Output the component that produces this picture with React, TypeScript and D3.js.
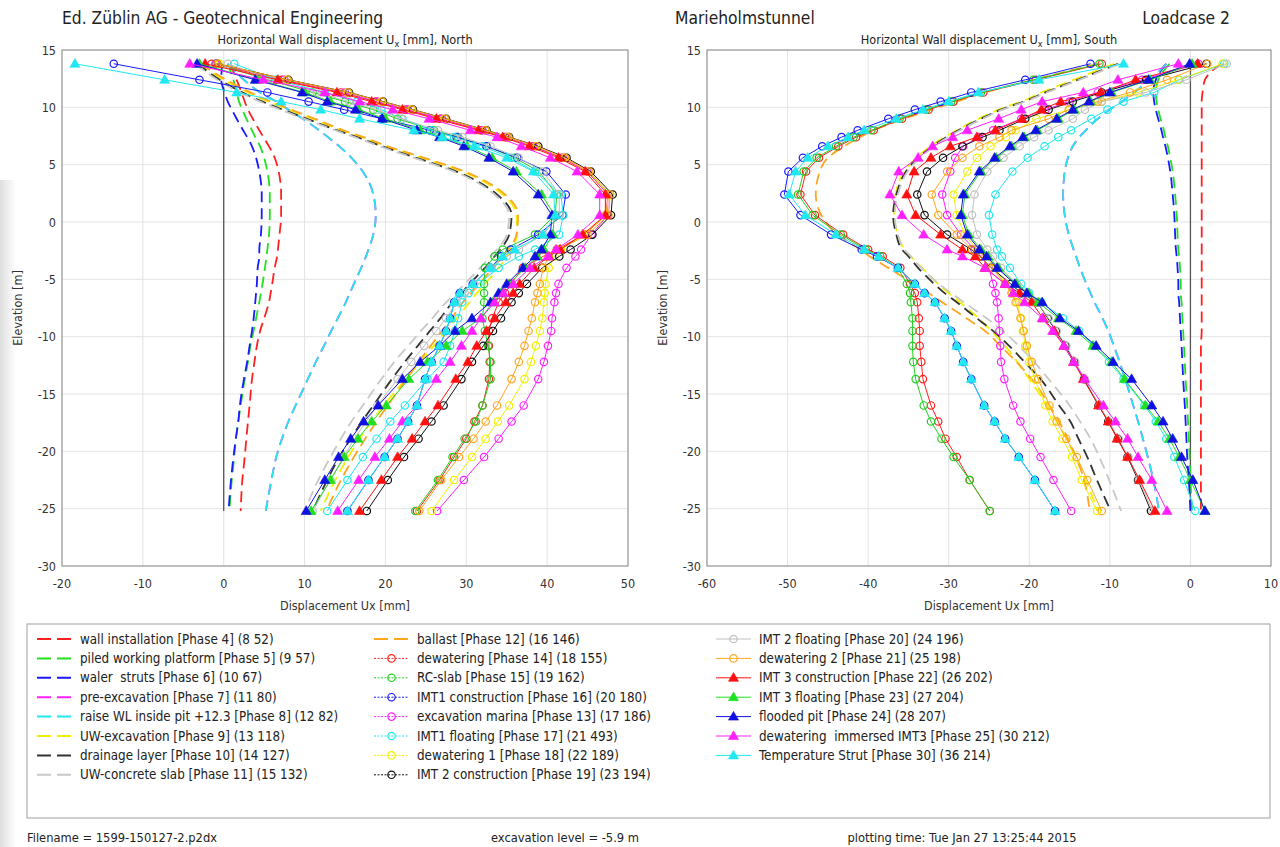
import React, { useEffect, useRef } from 'react';
import * as d3 from 'd3';

// elevation of the output points along the wall [m]
const elevations = [13.8, 12.4, 11.3, 10.5, 9.8, 9.0, 8.0, 7.4, 6.6, 5.6, 4.4, 2.4, 0.6, -1.1, -2.4, -3.0, -4.0, -5.4, -6.2, -7.0, -8.4, -9.5, -10.8, -12.2, -13.7, -16.0, -17.4, -18.9, -20.5, -22.5, -25.2];

// North wall, Ux [mm]
const wallInstallationN = [0.8, 1.6, 2.2, 2.6, 3.0, 3.6, 4.4, 4.9, 5.6, 6.3, 6.8, 7.1, 7.1, 6.9, 6.7, 6.6, 6.3, 6.0, 5.8, 5.6, 5.0, 4.5, 4.1, 3.8, 3.5, 3.2, 3.0, 2.8, 2.6, 2.3, 2.1];
const pilingN = [0.5, 1.2, 1.6, 1.9, 2.3, 2.8, 3.5, 3.9, 4.5, 5.0, 5.4, 5.7, 5.7, 5.6, 5.4, 5.3, 5.1, 4.8, 4.6, 4.4, 4.0, 3.7, 3.3, 3.0, 2.6, 2.1, 1.8, 1.5, 1.3, 1.0, 0.7];
const walerN = [-0.2, -0.3, 0.1, 0.5, 1.0, 1.6, 2.4, 2.9, 3.5, 4.0, 4.4, 4.7, 4.7, 4.6, 4.4, 4.4, 4.2, 4.1, 4.0, 3.9, 3.7, 3.5, 3.2, 2.9, 2.5, 2.0, 1.8, 1.5, 1.2, 0.9, 0.6];
const preExcavationN = [0.5, 2.5, 4.5, 6.5, 8.0, 9.8, 11.8, 12.9, 14.3, 15.8, 17.2, 18.5, 18.8, 18.5, 17.9, 17.6, 17.0, 16.1, 15.6, 15.1, 14.1, 13.3, 12.4, 11.4, 10.4, 8.9, 8.0, 7.2, 6.5, 5.9, 5.2];
const raiseWLN = [0.5, 2.5, 4.5, 6.5, 8.0, 9.8, 11.8, 12.9, 14.3, 15.8, 17.2, 18.5, 18.8, 18.5, 17.9, 17.6, 17.0, 16.1, 15.6, 15.1, 14.1, 13.3, 12.4, 11.4, 10.4, 8.9, 8.0, 7.2, 6.5, 5.9, 5.2];
const uwExcavationN = [-3.0, 0.0, 3.0, 5.5, 8.0, 11.0, 14.5, 17.0, 20.0, 24.5, 29.5, 34.5, 36.2, 36.3, 35.5, 35.0, 34.0, 32.3, 31.3, 30.4, 28.8, 27.5, 26.0, 24.3, 22.5, 19.8, 18.3, 16.8, 15.4, 13.8, 12.0];
const drainageN = [-3.2, -0.5, 2.3, 4.8, 7.3, 10.3, 14.0, 16.5, 19.6, 23.8, 28.8, 33.8, 35.6, 35.3, 34.2, 33.5, 32.3, 30.4, 29.4, 28.3, 26.8, 25.5, 24.0, 22.4, 20.8, 18.5, 17.1, 15.7, 14.3, 12.8, 11.0];
const uwConcreteN = [-3.5, -0.8, 2.0, 4.5, 7.0, 10.0, 13.8, 16.2, 19.3, 23.5, 28.5, 33.5, 35.3, 35.0, 33.8, 33.0, 31.7, 29.8, 28.7, 27.5, 25.8, 24.4, 22.8, 21.1, 19.5, 17.2, 15.8, 14.5, 13.2, 11.7, 10.0];
const ballastN = [-2.8, 0.3, 3.3, 5.8, 8.3, 11.3, 14.8, 17.3, 20.3, 24.8, 29.8, 34.8, 36.4, 36.2, 35.2, 34.5, 33.3, 31.6, 30.6, 29.6, 28.2, 27.0, 25.6, 24.1, 22.6, 20.3, 18.9, 17.5, 16.1, 14.5, 12.7];
const dewateringN = [-1.5, 7.2, 14.5, 18.8, 22.5, 26.8, 31.8, 34.8, 38.2, 41.8, 45.0, 47.5, 47.3, 44.6, 41.2, 39.5, 37.0, 35.5, 34.8, 34.0, 33.2, 32.8, 32.8, 32.9, 32.8, 32.0, 31.0, 30.0, 28.5, 26.7, 23.9];
const rcSlabN = [-1.0, 5.5, 11.0, 15.0, 18.5, 21.5, 26.0, 29.0, 32.5, 36.0, 39.0, 41.2, 41.0, 38.5, 34.5, 33.5, 32.3, 32.2, 32.2, 32.2, 32.0, 32.3, 32.7, 33.0, 33.0, 32.0, 31.2, 29.8, 28.3, 26.5, 23.7];
const imt1ConstrN = [-13.6, -3.0, 5.4, 10.5, 14.9, 19.6, 25.5, 28.8, 32.5, 36.3, 39.9, 42.3, 41.9, 38.9, 35.5, 34.3, 33.0, 30.8, 29.2, 28.5, 28.0, 27.5, 26.7, 25.7, 24.9, 23.9, 22.8, 21.5, 19.9, 17.9, 15.3];
const excavMarinaN = [-1.0, 7.5, 15.0, 19.0, 22.8, 27.0, 32.0, 35.0, 38.3, 42.0, 45.0, 47.5, 47.5, 45.5, 44.2, 43.5, 42.4, 41.4, 41.1, 40.9, 40.6, 40.5, 40.1, 39.6, 38.9, 37.1, 35.6, 34.0, 32.2, 29.7, 26.4];
const imt1FloatN = [1.3, 6.5, 12.5, 16.5, 19.5, 22.1, 25.7, 28.5, 32.0, 35.5, 38.5, 41.7, 42.0, 41.5, 38.5, 36.5, 34.0, 31.5, 30.3, 29.5, 29.0, 28.6, 28.0, 27.2, 25.2, 22.4, 20.6, 18.9, 17.2, 15.3, 12.8];
const dewatering1N = [-0.5, 7.8, 15.3, 19.5, 23.2, 27.3, 32.3, 35.1, 38.6, 42.1, 45.1, 47.6, 47.3, 44.5, 41.7, 40.9, 40.2, 39.8, 39.7, 39.6, 39.4, 39.1, 38.6, 38.0, 37.2, 35.3, 33.9, 32.4, 30.7, 28.5, 25.7];
const imt2ConstrN = [-0.8, 8.0, 15.5, 19.7, 23.4, 27.5, 32.5, 35.3, 38.9, 42.4, 45.4, 48.1, 47.9, 45.6, 42.9, 41.5, 39.4, 37.5, 36.5, 35.6, 34.3, 33.3, 32.1, 30.7, 29.4, 27.2, 25.7, 24.1, 22.3, 20.3, 17.7];
const imt2FloatN = [0.5, 6.0, 11.5, 15.5, 19.0, 22.0, 26.5, 29.5, 33.0, 36.5, 39.5, 41.5, 41.5, 39.5, 36.5, 35.0, 33.0, 31.0, 29.8, 28.8, 27.5, 26.3, 24.8, 23.2, 21.5, 19.0, 17.6, 16.2, 14.8, 13.2, 11.0];
const dewatering2N = [-0.8, 7.9, 15.4, 19.6, 23.3, 27.4, 32.4, 35.2, 38.7, 42.2, 45.2, 47.8, 47.6, 45.0, 41.5, 40.2, 39.5, 39.1, 38.8, 38.5, 38.1, 37.7, 37.2, 36.5, 35.6, 33.8, 32.4, 30.9, 29.1, 26.9, 24.2];
const imt3ConstrN = [-2.3, 6.7, 14.0, 18.3, 22.1, 26.3, 31.5, 34.5, 37.8, 41.4, 44.7, 47.2, 47.2, 44.4, 41.6, 40.2, 38.4, 36.6, 35.8, 34.9, 33.5, 32.5, 31.3, 30.2, 28.7, 26.5, 24.9, 23.3, 21.5, 19.5, 16.8];
const imt3FloatN = [-3.0, 4.2, 10.0, 13.2, 16.7, 20.0, 24.3, 27.1, 30.1, 33.2, 36.2, 39.3, 40.9, 40.7, 39.6, 38.8, 37.3, 35.3, 34.3, 33.3, 31.8, 29.5, 27.5, 25.2, 22.9, 20.1, 18.3, 16.6, 14.9, 13.2, 10.8];
const floodedPitN = [-3.3, 3.9, 9.7, 12.8, 16.3, 19.6, 23.9, 26.7, 29.7, 32.8, 35.8, 38.9, 40.6, 40.4, 39.3, 38.5, 37.0, 35.0, 34.0, 33.0, 30.7, 28.6, 26.7, 24.3, 22.1, 19.1, 17.3, 15.7, 14.2, 12.5, 10.2];
const dewImmersedN = [-4.2, 4.9, 12.5, 16.8, 20.9, 25.4, 30.5, 33.8, 36.8, 40.4, 43.7, 46.5, 46.5, 43.8, 41.1, 40.1, 37.9, 35.8, 34.6, 33.5, 31.8, 30.7, 29.4, 28.0, 26.3, 23.9, 22.1, 20.5, 18.7, 16.7, 14.1];
const tempStrutN = [-18.4, -7.3, 1.6, 7.1, 12.0, 16.8, 23.5, 27.0, 31.0, 35.0, 38.3, 40.8, 41.0, 39.5, 36.0, 34.5, 33.0, 30.8, 29.2, 28.5, 28.0, 27.5, 26.7, 25.7, 24.9, 23.9, 22.8, 21.5, 19.9, 17.9, 15.3];

// South wall, Ux [mm]
const wallInstallationS = [3.8, 1.8, 1.5, 1.4, 1.4, 1.4, 1.4, 1.4, 1.4, 1.4, 1.4, 1.4, 1.4, 1.4, 1.4, 1.4, 1.4, 1.4, 1.4, 1.4, 1.4, 1.4, 1.3, 1.3, 1.3, 1.3, 1.3, 1.3, 1.3, 1.3, 1.3];
const pilingS = [-2.6, -4.0, -4.3, -4.2, -4.0, -3.7, -3.3, -3.1, -2.8, -2.5, -2.2, -1.9, -1.7, -1.6, -1.5, -1.4, -1.3, -1.2, -1.2, -1.1, -1.0, -0.9, -0.8, -0.7, -0.6, -0.4, -0.3, -0.2, -0.1, 0.0, 0.2];
const walerS = [-3.0, -4.3, -4.6, -4.5, -4.3, -4.0, -3.6, -3.4, -3.1, -2.8, -2.5, -2.2, -2.0, -1.9, -1.8, -1.7, -1.6, -1.5, -1.5, -1.4, -1.3, -1.2, -1.1, -1.0, -0.9, -0.7, -0.6, -0.5, -0.4, -0.2, 0.0];
const preExcavationS = [-3.0, -5.0, -7.0, -8.5, -10.0, -11.5, -13.0, -13.8, -14.6, -15.2, -15.6, -15.8, -15.6, -15.1, -14.5, -14.2, -13.7, -12.9, -12.4, -11.9, -10.9, -10.2, -9.5, -8.8, -8.1, -7.1, -6.5, -5.9, -5.3, -4.6, -3.9];
const raiseWLS = [-3.0, -5.0, -7.0, -8.5, -10.0, -11.5, -13.0, -13.8, -14.6, -15.2, -15.6, -15.8, -15.6, -15.1, -14.5, -14.2, -13.7, -12.9, -12.4, -11.9, -10.9, -10.2, -9.5, -8.8, -8.1, -7.1, -6.5, -5.9, -5.3, -4.6, -3.9];
const uwExcavationS = [-9.5, -14.5, -18.5, -21.0, -23.8, -26.3, -29.0, -30.5, -32.3, -34.0, -35.5, -36.6, -36.8, -36.3, -35.5, -34.7, -33.3, -31.3, -30.0, -28.6, -26.3, -24.7, -23.0, -21.5, -20.0, -17.8, -16.6, -15.4, -14.3, -13.0, -11.5];
const drainageS = [-9.0, -14.0, -18.0, -20.7, -23.5, -26.0, -28.8, -30.3, -32.0, -33.8, -35.3, -36.5, -36.9, -36.5, -35.8, -35.0, -33.8, -31.8, -30.5, -29.0, -26.5, -24.5, -22.5, -20.6, -18.6, -16.3, -14.9, -13.9, -12.8, -11.6, -9.9];
const uwConcreteS = [-8.8, -13.8, -17.8, -20.5, -23.3, -25.8, -28.6, -30.1, -31.8, -33.6, -35.1, -36.3, -36.7, -36.3, -35.5, -34.7, -33.4, -31.2, -29.7, -28.1, -25.3, -23.3, -21.3, -19.4, -17.6, -15.0, -13.7, -12.4, -11.3, -10.1, -8.6];
const ballastS = [-11.5, -19.5, -25.5, -29.0, -32.2, -35.5, -39.3, -41.0, -43.0, -45.0, -46.0, -46.5, -45.8, -43.8, -41.0, -39.8, -37.5, -34.3, -32.5, -30.8, -27.8, -25.5, -23.6, -21.6, -19.7, -17.5, -16.3, -15.2, -14.2, -13.2, -12.5];
const dewateringS = [-11.0, -19.2, -25.7, -29.4, -32.5, -35.8, -39.3, -41.5, -43.7, -46.1, -47.7, -48.4, -46.6, -43.1, -40.0, -38.2, -36.0, -34.8, -34.2, -33.9, -33.7, -33.6, -33.6, -33.4, -33.2, -32.2, -31.3, -30.4, -29.0, -27.4, -24.9];
const rcSlabS = [-11.3, -19.5, -26.0, -29.7, -32.8, -36.1, -39.6, -41.8, -44.0, -46.4, -48.0, -48.7, -46.9, -43.4, -40.3, -38.5, -36.3, -35.2, -34.8, -34.7, -34.5, -34.5, -34.5, -34.4, -34.1, -33.1, -32.2, -30.9, -29.4, -27.4, -24.9];
const imt1ConstrS = [-12.4, -20.5, -27.2, -31.0, -34.2, -37.5, -41.3, -43.3, -45.7, -48.1, -49.9, -50.4, -48.4, -44.6, -40.8, -38.9, -36.3, -34.2, -33.0, -31.7, -30.5, -29.7, -29.0, -28.2, -27.2, -25.6, -24.3, -23.0, -21.3, -19.3, -16.8];
const excavMarinaS = [1.0, -6.0, -11.5, -15.0, -18.0, -21.0, -24.5, -26.3, -28.2, -29.2, -29.8, -30.8, -30.2, -28.5, -26.8, -26.0, -25.0, -24.5, -24.2, -24.0, -23.8, -23.7, -23.6, -23.5, -23.1, -22.0, -21.1, -19.9, -18.6, -17.0, -14.8];
const imt1FloatS = [4.2, -1.4, -4.5, -8.3, -10.3, -12.3, -14.8, -16.4, -18.1, -20.2, -22.1, -24.2, -25.0, -24.6, -24.0, -23.4, -22.4, -21.0, -20.0, -18.5, -15.8, -13.8, -12.0, -10.1, -8.3, -5.7, -4.3, -3.0, -2.0, -0.8, 0.6];
const dewatering1S = [4.0, -1.5, -6.5, -11.0, -15.0, -19.1, -21.7, -22.9, -24.8, -26.5, -27.7, -29.4, -29.0, -28.0, -26.5, -25.5, -24.2, -23.0, -22.2, -21.5, -21.0, -20.8, -20.5, -20.0, -19.3, -18.0, -17.1, -15.9, -14.7, -13.5, -11.6];
const imt2ConstrS = [2.0, -5.5, -11.0, -14.6, -17.6, -20.5, -23.7, -25.8, -28.3, -30.7, -32.7, -33.9, -33.0, -30.2, -27.2, -26.1, -24.7, -22.3, -21.0, -19.0, -17.7, -16.7, -15.5, -14.4, -13.2, -11.4, -10.2, -9.0, -7.8, -6.5, -4.9];
const imt2FloatS = [4.5, -0.5, -5.5, -11.0, -13.1, -14.6, -17.6, -19.4, -21.2, -23.2, -25.2, -26.8, -27.1, -26.5, -25.2, -24.5, -23.5, -21.5, -20.2, -19.0, -17.6, -16.6, -15.4, -14.3, -13.1, -11.3, -10.1, -8.9, -7.7, -6.4, -4.7];
const dewatering2S = [2.1, -2.9, -7.5, -11.5, -15.1, -17.6, -22.2, -23.7, -26.2, -28.3, -30.2, -32.1, -31.3, -29.0, -27.1, -26.2, -24.6, -23.0, -22.2, -21.7, -21.1, -20.7, -20.3, -19.7, -18.9, -17.5, -16.6, -15.4, -14.1, -12.8, -11.0];
const imt3ConstrS = [0.9, -6.8, -11.1, -16.1, -18.5, -20.9, -24.2, -26.5, -29.8, -32.2, -34.3, -35.2, -34.1, -31.0, -28.3, -26.7, -25.5, -23.0, -21.2, -19.7, -18.3, -16.9, -15.7, -14.5, -13.3, -11.4, -10.2, -9.1, -7.8, -6.3, -4.4];
const imt3FloatS = [0.2, -5.0, -9.8, -12.4, -14.4, -16.4, -19.0, -20.6, -22.2, -24.1, -26.0, -28.0, -28.3, -27.5, -26.0, -25.1, -23.8, -21.6, -20.1, -18.9, -16.4, -14.2, -12.1, -9.8, -8.2, -5.6, -4.0, -2.6, -1.4, 0.0, 1.8];
const floodedPitS = [-0.1, -5.2, -10.0, -12.6, -14.6, -16.6, -19.2, -20.8, -22.4, -24.3, -26.2, -28.2, -28.5, -27.7, -26.2, -25.3, -24.0, -21.8, -20.3, -18.4, -16.2, -13.9, -11.7, -9.6, -7.3, -4.8, -3.4, -2.2, -1.1, 0.3, 1.8];
const dewImmersedS = [-1.5, -9.0, -13.3, -18.4, -21.0, -23.8, -27.7, -29.5, -32.0, -33.8, -36.2, -37.3, -35.8, -33.1, -30.2, -28.3, -25.5, -23.0, -22.0, -20.6, -18.4, -17.1, -15.7, -14.5, -13.1, -10.8, -9.3, -7.8, -6.5, -4.8, -2.9];
const tempStrutS = [-8.3, -18.8, -26.3, -30.0, -33.2, -36.5, -40.5, -42.5, -45.0, -47.5, -49.0, -49.8, -47.8, -44.0, -40.5, -38.7, -36.3, -34.2, -33.0, -31.7, -30.5, -29.7, -29.0, -28.2, -27.2, -25.6, -24.3, -23.0, -21.3, -19.3, -16.8];

// wall axis (initial position) top / toe elevation
const wallAxisN = [11.8, -25.2];
const wallAxisS = [13.8, -25.2];

const phaseNames = [
  'wall installation [Phase 4] (8 52)',
  'piled working platform [Phase 5] (9 57)',
  'waler  struts [Phase 6] (10 67)',
  'pre-excavation [Phase 7] (11 80)',
  'raise WL inside pit +12.3 [Phase 8] (12 82)',
  'UW-excavation [Phase 9] (13 118)',
  'drainage layer [Phase 10] (14 127)',
  'UW-concrete slab [Phase 11] (15 132)',
  'ballast [Phase 12] (16 146)',
  'dewatering [Phase 14] (18 155)',
  'RC-slab [Phase 15] (19 162)',
  'IMT1 construction [Phase 16] (20 180)',
  'excavation marina [Phase 13] (17 186)',
  'IMT1 floating [Phase 17] (21 493)',
  'dewatering 1 [Phase 18] (22 189)',
  'IMT 2 construction [Phase 19] (23 194)',
  'IMT 2 floating [Phase 20] (24 196)',
  'dewatering 2 [Phase 21] (25 198)',
  'IMT 3 construction [Phase 22] (26 202)',
  'IMT 3 floating [Phase 23] (27 204)',
  'flooded pit [Phase 24] (28 207)',
  'dewatering  immersed IMT3 [Phase 25] (30 212)',
  'Temperature Strut [Phase 30] (36 214)',
];

const northSeries = [wallInstallationN, pilingN, walerN, preExcavationN, raiseWLN, uwExcavationN, drainageN, uwConcreteN, ballastN, dewateringN, rcSlabN, imt1ConstrN, excavMarinaN, imt1FloatN, dewatering1N, imt2ConstrN, imt2FloatN, dewatering2N, imt3ConstrN, imt3FloatN, floodedPitN, dewImmersedN, tempStrutN];
const southSeries = [wallInstallationS, pilingS, walerS, preExcavationS, raiseWLS, uwExcavationS, drainageS, uwConcreteS, ballastS, dewateringS, rcSlabS, imt1ConstrS, excavMarinaS, imt1FloatS, dewatering1S, imt2ConstrS, imt2FloatS, dewatering2S, imt3ConstrS, imt3FloatS, floodedPitS, dewImmersedS, tempStrutS];

const xTicksN = [-20, -10, 0, 10, 20, 30, 40, 50];
const xTicksS = [-60, -50, -40, -30, -20, -10, 0, 10];
const yTicks = [15, 10, 5, 0, -5, -10, -15, -20, -25, -30];

// styling: colour + marker type per phase
const styles = [
  { c: '#ff2020', m: 'dash' }, { c: '#20e020', m: 'dash' }, { c: '#1a1aff', m: 'dash' },
  { c: '#ff20ff', m: 'dash' }, { c: '#20e8f0', m: 'dash' }, { c: '#f0f000', m: 'dash' },
  { c: '#333333', m: 'dash' }, { c: '#c8c8c8', m: 'dash' }, { c: '#ffa620', m: 'dash' },
  { c: '#ff2020', m: 'circle' }, { c: '#20d020', m: 'circle' }, { c: '#1a1aff', m: 'circle' },
  { c: '#ff20ff', m: 'circle' }, { c: '#20e8f0', m: 'circle' }, { c: '#f0f000', m: 'circle' },
  { c: '#111111', m: 'circle' }, { c: '#c0c0c0', m: 'circle' }, { c: '#ffa620', m: 'circle' },
  { c: '#ff1010', m: 'tri' }, { c: '#20e020', m: 'tri' }, { c: '#1010e0', m: 'tri' },
  { c: '#ff20ff', m: 'tri' }, { c: '#20e8f0', m: 'tri' },
];

const FONT = "'DejaVu Sans Condensed', 'Liberation Sans Narrow', 'DejaVu Sans', sans-serif";

function App() {
  const ref = useRef<SVGSVGElement>(null);
  const width = 1280;
  const height = 847;

  useEffect(() => {
    const svg = d3.select(ref.current);
    svg.selectAll('*').remove();
    svg.attr('width', width).attr('height', height).style('font-family', FONT);

    svg.append('rect').attr('width', width).attr('height', height).attr('fill', '#fff');

    // scan shadow at the left edge
    const grad = svg.append('defs').append('linearGradient').attr('id', 'edge');
    grad.append('stop').attr('offset', '0%').attr('stop-color', '#000').attr('stop-opacity', 0.13);
    grad.append('stop').attr('offset', '100%').attr('stop-color', '#000').attr('stop-opacity', 0);
    svg.append('rect').attr('x', 0).attr('y', 180).attr('width', 16).attr('height', 667).attr('fill', 'url(#edge)');

    const tri = d3.symbol().type(d3.symbolTriangle).size(44);

    const drawMarker = (g: any, m: string, color: string, x: number, y: number) => {
      if (m === 'circle') {
        g.append('circle').attr('cx', x).attr('cy', y).attr('r', 3.7)
          .attr('fill', 'none').attr('stroke', color).attr('stroke-width', 1.2);
      } else if (m === 'tri') {
        g.append('path').attr('d', tri).attr('transform', `translate(${x},${y + 0.6})`)
          .attr('fill', color).attr('stroke', color).attr('stroke-width', 0.6);
      }
    };

    const panel = (x0: number, x1: number, domain: [number, number], xTicks: number[], data: number[][], wall: number[], side: string) => {
      const x = d3.scaleLinear().domain(domain).range([x0, x1]);
      const y = d3.scaleLinear().domain([-30, 15]).range([566, 50]);
      const g = svg.append('g');

      // grid
      g.selectAll('.gx').data(xTicks).join('line')
        .attr('x1', d => x(d)).attr('x2', d => x(d)).attr('y1', y(15)).attr('y2', y(-30))
        .attr('stroke', '#e3e3e3').attr('stroke-width', 1);
      g.selectAll('.gy').data(yTicks).join('line')
        .attr('x1', x0).attr('x2', x1).attr('y1', d => y(d)).attr('y2', d => y(d))
        .attr('stroke', '#e3e3e3').attr('stroke-width', 1);

      // tick labels
      g.selectAll('.tx').data(xTicks).join('text')
        .attr('x', d => x(d)).attr('y', 588).attr('text-anchor', 'middle')
        .attr('font-size', 12.5).attr('fill', '#333').text(d => d);
      g.selectAll('.ty').data(yTicks).join('text')
        .attr('x', x0 - 6).attr('y', d => y(d) + 4.5).attr('text-anchor', 'end')
        .attr('font-size', 12.5).attr('fill', '#333').text(d => d);

      // wall axis
      g.append('line').attr('x1', x(0)).attr('x2', x(0)).attr('y1', y(wall[0])).attr('y2', y(wall[1]))
        .attr('stroke', '#555').attr('stroke-width', 1.3);

      const line = d3.line<number>().x(d => x(d)).y((_, i) => y(elevations[i]));
      const smooth = d3.line<number>().x(d => x(d)).y((_, i) => y(elevations[i])).curve(d3.curveMonotoneY);

      data.forEach((vals, k) => {
        const st = styles[k];
        if (st.m === 'dash') {
          g.append('path').attr('d', smooth(vals)).attr('fill', 'none')
            .attr('stroke', st.c).attr('stroke-width', 1.8).attr('stroke-dasharray', '11,6');
        }
      });
      data.forEach((vals, k) => {
        const st = styles[k];
        if (st.m === 'dash') return;
        g.append('path').attr('d', line(vals)).attr('fill', 'none')
          .attr('stroke', st.c).attr('stroke-width', 1);
        vals.forEach((v, i) => drawMarker(g, st.m, st.c, x(v), y(elevations[i])));
      });

      // frame
      g.append('rect').attr('x', x0).attr('y', 50).attr('width', x1 - x0).attr('height', 516)
        .attr('fill', 'none').attr('stroke', '#8a8a8a').attr('stroke-width', 1);

      const cx = (x0 + x1) / 2;
      const t = g.append('text').attr('x', cx).attr('y', 44).attr('text-anchor', 'middle')
        .attr('font-size', 12.6).attr('fill', '#222');
      t.append('tspan').text('Horizontal Wall displacement U');
      t.append('tspan').attr('font-size', 9).attr('dy', 3).text('x');
      t.append('tspan').attr('dy', -3).text(` [mm], ${side}`);

      g.append('text').attr('x', cx).attr('y', 610).attr('text-anchor', 'middle')
        .attr('font-size', 12.5).attr('fill', '#333').text('Displacement Ux [mm]');
      g.append('text').attr('transform', `translate(${x0 - 40},308) rotate(-90)`)
        .attr('text-anchor', 'middle').attr('font-size', 12.5).attr('fill', '#333').text('Elevation [m]');
    };

    panel(62, 628, [-20, 50], xTicksN, northSeries, wallAxisN, 'North');
    panel(707, 1271, [-60, 10], xTicksS, southSeries, wallAxisS, 'South');

    // header
    svg.append('text').attr('x', 62).attr('y', 24).attr('font-size', 17.3).attr('fill', '#222')
      .text('Ed. Züblin AG - Geotechnical Engineering');
    svg.append('text').attr('x', 675).attr('y', 24).attr('font-size', 17.3).attr('fill', '#222')
      .text('Marieholmstunnel');
    svg.append('text').attr('x', 1230).attr('y', 24).attr('text-anchor', 'end').attr('font-size', 17.3)
      .attr('fill', '#222').text('Loadcase 2');

    // legend
    const lg = svg.append('g');
    lg.append('rect').attr('x', 27).attr('y', 624).attr('width', 1243).attr('height', 194)
      .attr('fill', '#fff').attr('stroke', '#a0a0a0').attr('stroke-width', 1);
    const colX = [37, 374, 716];
    phaseNames.forEach((name, k) => {
      const col = k < 8 ? 0 : k < 16 ? 1 : 2;
      const row = k < 8 ? k : k < 16 ? k - 8 : k - 16;
      const ly = 639 + row * 19.4;
      const lx = colX[col];
      const st = styles[k];
      if (st.m === 'dash') {
        lg.append('line').attr('x1', lx).attr('x2', lx + 35).attr('y1', ly).attr('y2', ly)
          .attr('stroke', st.c).attr('stroke-width', 2).attr('stroke-dasharray', '14,6');
      } else {
        lg.append('line').attr('x1', lx).attr('x2', lx + 35).attr('y1', ly).attr('y2', ly)
          .attr('stroke', st.c).attr('stroke-width', 1)
          .attr('stroke-dasharray', col === 1 ? '2,1.5' : null);
        drawMarker(lg, st.m, st.c, lx + 17.5, ly);
      }
      lg.append('text').attr('x', lx + 43).attr('y', ly + 4.5).attr('font-size', 13.3)
        .attr('fill', '#222').style('white-space', 'pre').text(name);
    });

    // footer
    svg.append('text').attr('x', 27).attr('y', 842).attr('font-size', 12.8).attr('fill', '#222')
      .text('Filename = 1599-150127-2.p2dx');
    svg.append('text').attr('x', 565).attr('y', 842).attr('text-anchor', 'middle').attr('font-size', 12.8)
      .attr('fill', '#222').text('excavation level = -5.9 m');
    svg.append('text').attr('x', 962).attr('y', 842).attr('text-anchor', 'middle').attr('font-size', 12.8)
      .attr('fill', '#222').text('plotting time: Tue Jan 27 13:25:44 2015');
  }, []);

  return <svg ref={ref} style={{ position: 'absolute', left: 0, top: 0, display: 'block' }}></svg>;
}

export default App;
